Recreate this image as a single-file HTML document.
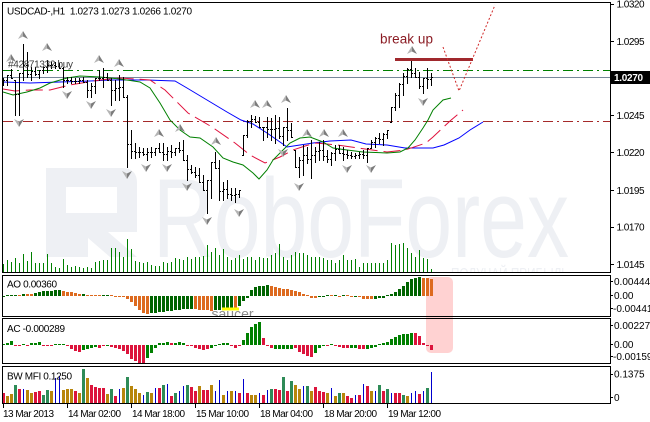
<!DOCTYPE html>
<html><head><meta charset="utf-8">
<style>
html,body{margin:0;padding:0;background:#fff;width:650px;height:422px;overflow:hidden}
svg{display:block}
text{font-family:"Liberation Sans",Arial,sans-serif}
</style></head><body>
<svg xmlns="http://www.w3.org/2000/svg" width="650" height="422" viewBox="0 0 650 422">
<defs>
<clipPath id="cm"><rect x="3" y="3" width="607" height="269"/></clipPath>
<clipPath id="cao"><rect x="3" y="276" width="607" height="40"/></clipPath>
</defs>
<rect width="650" height="422" fill="#fff"/>

<rect x="426" y="277" width="27" height="76" rx="5" fill="#ffd2d2"/>

<g clip-path="url(#cm)">
  <path d="M46,168 H122 Q137,168 137,183 V232 H108 L137,257 H110 L88,238 V257 H46 Z M66,187 H117 V213 H66 Z" fill="#eef0f4" fill-rule="evenodd"/>
  <text x="153" y="257" font-size="112" textLength="416" lengthAdjust="spacingAndGlyphs" fill="#eef0f4">RoboForex</text>
  <text x="451" y="279" font-size="16" textLength="118" lengthAdjust="spacingAndGlyphs" fill="#eef0f4">ПОЛУЧАЙ ПРИБЫЛЬ</text>

  <path fill="none" stroke="#008000" stroke-width="1" d="M3.5 272v-8M7.5 272v-12M11.5 272v-10M15.5 272v-14M19.5 272v-9M23.5 272v-18M27.5 272v-11M31.5 272v-20M35.5 272v-9M39.5 272v-9M43.5 272v-9M47.5 272v-18M51.5 272v-9M55.5 272v-5M59.5 272v-4M63.5 272v-13M67.5 272v-7M71.5 272v-5M75.5 272v-6M79.5 272v-5M83.5 272v-4M87.5 272v-5M91.5 272v-4M95.5 272v-10M99.5 272v-11M103.5 272v-12M107.5 272v-12M111.5 272v-24M115.5 272v-24M119.5 272v-20M123.5 272v-15M127.5 272v-33M131.5 272v-23M135.5 272v-11M139.5 272v-10M143.5 272v-9M147.5 272v-10M151.5 272v-7M155.5 272v-6M159.5 272v-6M163.5 272v-10M167.5 272v-9M171.5 272v-10M175.5 272v-14M179.5 272v-13M183.5 272v-12M187.5 272v-15M191.5 272v-13M195.5 272v-15M199.5 272v-15M203.5 272v-16M207.5 272v-27M211.5 272v-20M215.5 272v-24M219.5 272v-17M223.5 272v-23M227.5 272v-15M231.5 272v-12M235.5 272v-14M239.5 272v-17M243.5 272v-13M247.5 272v-15M251.5 272v-15M255.5 272v-12M259.5 272v-15M263.5 272v-14M267.5 272v-14M271.5 272v-17M275.5 272v-19M279.5 272v-28M283.5 272v-15M287.5 272v-12M291.5 272v-17M295.5 272v-20M299.5 272v-19M303.5 272v-19M307.5 272v-17M311.5 272v-15M315.5 272v-15M319.5 272v-15M323.5 272v-14M327.5 272v-12M331.5 272v-12M335.5 272v-9M339.5 272v-12M343.5 272v-17M347.5 272v-12M351.5 272v-12M355.5 272v-13M359.5 272v-5M363.5 272v-9M367.5 272v-9M371.5 272v-9M375.5 272v-9M379.5 272v-9M383.5 272v-9M387.5 272v-12M391.5 272v-29M395.5 272v-27M399.5 272v-28M403.5 272v-29M407.5 272v-24M411.5 272v-19M415.5 272v-15M419.5 272v-22M423.5 272v-14M427.5 272v-13M431.5 272v-3"/>

  <line x1="3" y1="70.5" x2="610" y2="70.5" stroke="#008000" stroke-width="1" stroke-dasharray="10 4 2 4"/>
  <line x1="3" y1="77.5" x2="610" y2="77.5" stroke="#778899" stroke-width="1"/>
  <line x1="3" y1="121.5" x2="610" y2="121.5" stroke="#a52a2a" stroke-width="1" stroke-dasharray="10 4 2 4"/>

  <polyline fill="none" stroke="#0000ff" stroke-width="1" points="3,82 30,83 60,82 90,81 110,80 147,80 175,81 187,88 207,100 227,112 241,120 253,124 267,133 280,142 287,147 300,145 313,143 330,141 351,140 366,144 387,145 405,148 433,148 444,145 459,138 470,130 483,122"/>
  <polyline fill="none" stroke="#e0103c" stroke-width="1" stroke-dasharray="17 6" points="3,89 15,91 30,90 50,90 70,85 100,80 120,78 150,80 165,90 188,113 212,127 235,143 250,155 265,163 280,157 293,150 305,146 316,143 337,145 358,148 387,152 405,150 426,143 433,137 450,121 463,110"/>
  <polyline fill="none" stroke="#008000" stroke-width="1" points="3,92 13,95 27,92 40,88 50,83 67,78 80,76 100,77 120,79 140,82 150,88 160,103 170,120 180,130 190,137 200,138 213,147 223,158 233,162 243,165 253,173 259,179 267,170 273,160 280,153 290,143 300,138 310,137 323,142 333,148 347,150 363,152 387,153 400,152 408,148 415,140 423,128 428,120 433,110 443,100 451,98"/>

  <path fill="none" stroke="#000" stroke-width="1" d="M3.5 78V86M2 82.5h1M4 80.5h1M7.5 75V86M6 80.5h1M8 75.5h1M11.5 69V79M10 75.5h1M12 78.5h1M15.5 80V116M14 80.5h1M16 94.5h1M19.5 73V116M18 94.5h1M20 73.5h1M23.5 44V81M22 73.5h1M24 65.5h1M27.5 52V78M26 65.5h1M28 74.5h1M31.5 67V81M30 74.5h1M32 71.5h1M35.5 67V76M34 71.5h1M36 74.5h1M39.5 70V79M38 74.5h1M40 70.5h1M43.5 67V74M42 70.5h1M44 67.5h1M47.5 60V73M46 67.5h1M48 65.5h1M51.5 62V69M50 65.5h1M52 65.5h1M55.5 62V69M54 65.5h1M56 66.5h1M59.5 63V69M58 66.5h1M60 68.5h1M63.5 67V88M62 68.5h1M64 80.5h1M67.5 77V84M66 80.5h1M68 80.5h1M71.5 77V84M70 80.5h1M72 81.5h1M75.5 78V84M74 81.5h1M76 81.5h1M79.5 78V84M78 81.5h1M80 80.5h1M83.5 77V83M82 80.5h1M84 82.5h1M87.5 80V98M86 82.5h1M88 90.5h1M91.5 83V98M90 90.5h1M92 86.5h1M95.5 78V94M94 86.5h1M96 78.5h1M99.5 70V81M98 78.5h1M100 78.5h1M103.5 68V88M102 78.5h1M104 77.5h1M107.5 73V81M106 77.5h1M108 80.5h1M111.5 78V106M110 80.5h1M112 90.5h1M115.5 80V101M114 90.5h1M116 88.5h1M119.5 75V101M118 88.5h1M120 87.5h1M123.5 77V98M122 87.5h1M124 97.5h1M127.5 95V168M126 97.5h1M128 144.5h1M131.5 130V159M130 144.5h1M132 151.5h1M135.5 143V159M134 151.5h1M136 152.5h1M139.5 147V158M138 152.5h1M140 152.5h1M143.5 148V156M142 152.5h1M144 154.5h1M147.5 148V161M146 154.5h1M148 152.5h1M151.5 147V158M150 152.5h1M152 152.5h1M155.5 148V156M154 152.5h1M156 148.5h1M159.5 143V153M158 148.5h1M160 152.5h1M163.5 143V161M162 152.5h1M164 154.5h1M167.5 147V161M166 154.5h1M168 151.5h1M171.5 145V158M170 151.5h1M172 152.5h1M175.5 148V156M174 152.5h1M176 148.5h1M179.5 142V153M178 148.5h1M180 150.5h1M183.5 140V161M182 150.5h1M184 160.5h1M187.5 155V181M186 160.5h1M188 169.5h1M191.5 165V174M190 169.5h1M192 172.5h1M195.5 167V178M194 172.5h1M196 175.5h1M199.5 168V183M198 175.5h1M200 182.5h1M203.5 175V191M202 182.5h1M204 190.5h1M207.5 180V214M206 190.5h1M208 180.5h1M211.5 162V199M210 180.5h1M212 162.5h1M215.5 152V169M214 162.5h1M216 168.5h1M219.5 160V201M218 168.5h1M220 191.5h1M223.5 182V201M222 191.5h1M224 189.5h1M227.5 180V199M226 189.5h1M228 194.5h1M231.5 188V201M230 194.5h1M232 195.5h1M235.5 188V203M234 195.5h1M236 194.5h1M239.5 190V198M238 194.5h1M240 190.5h1M243.5 135V156M242 155.5h1M244 135.5h1M247.5 120V138M246 135.5h1M248 121.5h1M251.5 115V128M250 121.5h1M252 119.5h1M255.5 116V123M254 119.5h1M256 122.5h1M259.5 117V128M258 122.5h1M260 127.5h1M263.5 127V141M262 127.5h1M264 127.5h1M267.5 117V138M266 127.5h1M268 129.5h1M271.5 118V141M270 129.5h1M272 129.5h1M275.5 115V144M274 129.5h1M276 128.5h1M279.5 117V139M278 128.5h1M280 136.5h1M283.5 127V146M282 136.5h1M284 127.5h1M287.5 108V141M286 127.5h1M288 130.5h1M291.5 123V138M290 130.5h1M292 137.5h1M295.5 150V168M294 150.5h1M296 167.5h1M299.5 157V178M298 167.5h1M300 160.5h1M303.5 145V176M302 160.5h1M304 155.5h1M307.5 147V164M306 155.5h1M308 159.5h1M311.5 140V179M310 159.5h1M312 155.5h1M315.5 147V163M314 155.5h1M316 151.5h1M319.5 142V161M318 151.5h1M320 150.5h1M323.5 140V161M322 150.5h1M324 156.5h1M327.5 150V163M326 156.5h1M328 159.5h1M331.5 152V166M330 159.5h1M332 153.5h1M335.5 145V161M334 153.5h1M336 149.5h1M339.5 145V154M338 149.5h1M340 153.5h1M343.5 147V161M342 153.5h1M344 154.5h1M347.5 150V159M346 154.5h1M348 155.5h1M351.5 152V159M350 155.5h1M352 156.5h1M355.5 153V159M354 156.5h1M356 155.5h1M359.5 152V159M358 155.5h1M360 154.5h1M363.5 150V159M362 154.5h1M364 155.5h1M367.5 148V163M366 155.5h1M368 148.5h1M371.5 140V149M370 148.5h1M372 142.5h1M375.5 137V148M374 142.5h1M376 138.5h1M379.5 133V144M378 138.5h1M380 139.5h1M383.5 133V146M382 139.5h1M384 134.5h1M387.5 130V139M386 134.5h1M388 130.5h1M391.5 107V123M390 122.5h1M392 107.5h1M395.5 93V111M394 107.5h1M396 95.5h1M399.5 83V108M398 95.5h1M400 84.5h1M403.5 73V96M402 84.5h1M404 76.5h1M407.5 68V84M406 76.5h1M408 69.5h1M411.5 60V78M410 69.5h1M412 73.5h1M415.5 68V78M414 73.5h1M416 77.5h1M419.5 72V89M418 77.5h1M420 86.5h1M423.5 78V94M422 86.5h1M424 78.5h1M427.5 68V89M426 78.5h1M428 79.5h1M431.5 73V86M430 79.5h1M432 77.5h1"/>

  <path fill="#b4b4b4" d="M23 31L18 39L23 36.5ZM47 43L42 51L47 48.5ZM11 54L6 62L11 59.5ZM99 55L94 63L99 60.5ZM119 59L114 67L119 64.5ZM159 129L154 137L159 134.5ZM180 124L175 132L180 129.5ZM216 137L211 145L216 142.5ZM255 100L250 108L255 105.5ZM267 100L262 108L267 105.5ZM286 95L281 103L286 100.5ZM307 129L302 137L307 134.5ZM324 129L319 137L324 134.5ZM343 129L338 137L343 134.5ZM412 46L407 54L412 51.5ZM14 119L19 121.5L19 127ZM62 91L67 93.5L67 99ZM86 101L91 103.5L91 109ZM106 109L111 111.5L111 117ZM122 171L127 173.5L127 179ZM141 164L146 166.5L146 172ZM162 164L167 166.5L167 172ZM182 183L187 185.5L187 191ZM202 217L207 219.5L207 225ZM234 209L239 211.5L239 217ZM278 149L283 151.5L283 157ZM294 183L299 185.5L299 191ZM342 165L347 167.5L347 173ZM366 165L371 167.5L371 173ZM418 98L423 100.5L423 106Z"/>
  <path fill="#7c7c7c" d="M23 31L28 39L23 36.5ZM47 43L52 51L47 48.5ZM11 54L16 62L11 59.5ZM99 55L104 63L99 60.5ZM119 59L124 67L119 64.5ZM159 129L164 137L159 134.5ZM180 124L185 132L180 129.5ZM216 137L221 145L216 142.5ZM255 100L260 108L255 105.5ZM267 100L272 108L267 105.5ZM286 95L291 103L286 100.5ZM307 129L312 137L307 134.5ZM324 129L329 137L324 134.5ZM343 129L348 137L343 134.5ZM412 46L417 54L412 51.5ZM24 119L19 121.5L19 127ZM72 91L67 93.5L67 99ZM96 101L91 103.5L91 109ZM116 109L111 111.5L111 117ZM132 171L127 173.5L127 179ZM151 164L146 166.5L146 172ZM172 164L167 166.5L167 172ZM192 183L187 185.5L187 191ZM212 217L207 219.5L207 225ZM244 209L239 211.5L239 217ZM288 149L283 151.5L283 157ZM304 183L299 185.5L299 191ZM352 165L347 167.5L347 173ZM376 165L371 167.5L371 173ZM428 98L423 100.5L423 106Z"/>

  <line x1="395" y1="59.5" x2="473" y2="59.5" stroke="#a0282d" stroke-width="3"/>
  <polyline fill="none" stroke="#d02828" stroke-width="1" stroke-dasharray="2 2" points="443,47 459,91 495,5"/>
  <text x="380" y="43.5" font-size="13.5" textLength="53" fill="#8b1c24">break up</text>
  <text x="8" y="67.5" font-size="10" textLength="65" fill="#3a3a3a">#42871332 buy</text>
  <text x="7" y="14.5" font-size="10" textLength="185" fill="#000" xml:space="preserve">USDCAD-,H1  1.0273 1.0273 1.0266 1.0270</text>
</g>

<!-- AO -->
<path fill="none" stroke="#006400" stroke-width="3" d="M3.5 296v1M7.5 296v-1M11.5 296v-1M15.5 296v-1M23.5 296v-2M35.5 296v-3M39.5 296v-4M43.5 296v-5M47.5 296v-5M51.5 296v-5M55.5 296v-6M59.5 296v-6M83.5 296v-2M103.5 296v-1M107.5 296v-1M151.5 296v17M155.5 296v17M159.5 296v16M163.5 296v16M167.5 296v15M171.5 296v15M175.5 296v14M179.5 296v14M183.5 296v13M187.5 296v13M191.5 296v13M215.5 296v14M219.5 296v14M223.5 296v14M227.5 296v13M231.5 296v13M239.5 296v10M243.5 296v5M247.5 296v2M251.5 296v-6M255.5 296v-9M259.5 296v-10M263.5 296v-10M267.5 296v-11M319.5 296v1M323.5 296v1M327.5 296v-1M335.5 296v-1M343.5 296v-1M355.5 296v1M375.5 296v3M379.5 296v2M383.5 296v2M387.5 296v-1M391.5 296v-2M395.5 296v-4M399.5 296v-7M403.5 296v-10M407.5 296v-14M411.5 296v-17M415.5 296v-18M419.5 296v-19"/>
<path fill="none" stroke="#dd6a1f" stroke-width="3" d="M19.5 296v-1M27.5 296v-2M31.5 296v-2M63.5 296v-5M67.5 296v-4M71.5 296v-4M75.5 296v-3M79.5 296v-2M87.5 296v-1M91.5 296v-1M95.5 296v-1M99.5 296v-1M111.5 296v-1M115.5 296v1M119.5 296v1M123.5 296v1M127.5 296v3M131.5 296v6M135.5 296v10M139.5 296v14M143.5 296v17M147.5 296v18M195.5 296v13M199.5 296v14M203.5 296v14M207.5 296v14M211.5 296v15M235.5 296v14M271.5 296v-10M275.5 296v-9M279.5 296v-8M283.5 296v-7M287.5 296v-7M291.5 296v-6M295.5 296v-5M299.5 296v-4M303.5 296v-2M307.5 296v-1M311.5 296v2M315.5 296v2M331.5 296v-1M339.5 296v1M347.5 296v-1M351.5 296v1M359.5 296v1M363.5 296v3M367.5 296v3M371.5 296v3M423.5 296v-18M427.5 296v-18M431.5 296v-17"/>
<rect x="222" y="307.5" width="17" height="3" fill="#ffff00"/>
<g clip-path="url(#cao)"><text x="211.5" y="318.5" font-size="14" fill="#8a8a8a">saucer</text></g>

<!-- AC -->
<path fill="none" stroke="#008000" stroke-width="3" d="M3.5 345v-1M7.5 345v-2M11.5 345v-4M23.5 345v-1M31.5 345v-2M35.5 345v-2M39.5 345v-3M55.5 345v-1M59.5 345v-1M63.5 345v-1M83.5 345v5M87.5 345v4M91.5 345v3M95.5 345v2M107.5 345v1M147.5 345v13M151.5 345v8M155.5 345v3M159.5 345v-2M163.5 345v-2M167.5 345v-3M175.5 345v-2M179.5 345v-3M183.5 345v-2M211.5 345v3M215.5 345v1M219.5 345v-1M223.5 345v-2M227.5 345v-2M243.5 345v-5M247.5 345v-12M251.5 345v-18M255.5 345v-21M259.5 345v-23M275.5 345v4M279.5 345v4M283.5 345v4M287.5 345v4M291.5 345v4M315.5 345v8M319.5 345v3M323.5 345v1M331.5 345v-1M351.5 345v3M355.5 345v3M367.5 345v4M371.5 345v3M375.5 345v2M379.5 345v-1M383.5 345v-2M387.5 345v-3M391.5 345v-6M395.5 345v-8M399.5 345v-10M403.5 345v-11M407.5 345v-11M411.5 345v-12"/>
<path fill="none" stroke="#dc143c" stroke-width="3" d="M15.5 345v1M19.5 345v1M27.5 345v1M43.5 345v1M47.5 345v1M51.5 345v1M67.5 345v1M71.5 345v4M75.5 345v6M79.5 345v7M99.5 345v3M103.5 345v1M111.5 345v2M115.5 345v3M119.5 345v4M123.5 345v6M127.5 345v9M131.5 345v14M135.5 345v16M139.5 345v18M143.5 345v18M171.5 345v-2M187.5 345v1M191.5 345v1M195.5 345v3M199.5 345v4M203.5 345v5M207.5 345v4M231.5 345v1M235.5 345v3M239.5 345v1M263.5 345v-7M267.5 345v1M271.5 345v3M295.5 345v3M299.5 345v7M303.5 345v9M307.5 345v11M311.5 345v12M327.5 345v1M335.5 345v1M339.5 345v2M343.5 345v3M347.5 345v3M359.5 345v4M363.5 345v4M415.5 345v-12M419.5 345v-9M423.5 345v-2M427.5 345v1M431.5 345v5"/>

<!-- BW MFI -->
<path fill="none" stroke="#2e8b57" stroke-width="3" d="M15.5 403v-18M43.5 403v-8M47.5 403v-13M83.5 403v-34M111.5 403v-14M127.5 403v-26M147.5 403v-11M163.5 403v-18M175.5 403v-10M187.5 403v-18M271.5 403v-14M283.5 403v-26M291.5 403v-22M307.5 403v-17M339.5 403v-10M379.5 403v-18M387.5 403v-14M403.5 403v-8M427.5 403v-15"/>
<path fill="none" stroke="#b8860b" stroke-width="3" d="M7.5 403v-7M11.5 403v-9M27.5 403v-13M31.5 403v-10M51.5 403v-12M63.5 403v-13M67.5 403v-14M71.5 403v-14M79.5 403v-10M87.5 403v-25M107.5 403v-9M123.5 403v-15M131.5 403v-17M135.5 403v-14M139.5 403v-10M151.5 403v-10M199.5 403v-17M211.5 403v-18M223.5 403v-8M231.5 403v-12M251.5 403v-8M255.5 403v-8M295.5 403v-18M299.5 403v-14M311.5 403v-12M327.5 403v-10M335.5 403v-7M343.5 403v-10M371.5 403v-12M407.5 403v-7"/>
<path fill="none" stroke="#dc143c" stroke-width="3" d="M3.5 403v-10M19.5 403v-14M35.5 403v-11M39.5 403v-12M75.5 403v-12M91.5 403v-18M95.5 403v-16M99.5 403v-15M103.5 403v-15M115.5 403v-7M159.5 403v-15M171.5 403v-7M191.5 403v-16M195.5 403v-12M203.5 403v-13M207.5 403v-13M239.5 403v-10M247.5 403v-10M263.5 403v-8M275.5 403v-14M279.5 403v-13M287.5 403v-12M315.5 403v-16M319.5 403v-12M323.5 403v-11M347.5 403v-7M351.5 403v-5M359.5 403v-8M367.5 403v-17M383.5 403v-12M395.5 403v-10M399.5 403v-10M419.5 403v-9"/>
<path fill="none" stroke="#0000cd" stroke-width="1" d="M23.5 403v-14M55.5 403v-25M59.5 403v-27M119.5 403v-14M143.5 403v-8M155.5 403v-15M167.5 403v-19M179.5 403v-12M183.5 403v-17M215.5 403v-12M219.5 403v-23M227.5 403v-12M235.5 403v-12M243.5 403v-24M259.5 403v-10M267.5 403v-13M303.5 403v-17M331.5 403v-15M355.5 403v-8M363.5 403v-19M375.5 403v-12M391.5 403v-10M411.5 403v-10M415.5 403v-12M423.5 403v-12M431.5 403v-31"/>

<text x="7" y="287.5" font-size="10" textLength="50" fill="#000">AO 0.00360</text>
<text x="7" y="332" font-size="10" textLength="58" fill="#000">AC -0.000289</text>
<text x="7" y="379.5" font-size="10" textLength="65" fill="#000">BW MFI 0.1250</text>

<g fill="none" stroke="#000" stroke-width="1">
  <rect x="2.5" y="2.5" width="608" height="270"/>
  <rect x="2.5" y="275.5" width="608" height="41"/>
  <rect x="2.5" y="318.5" width="608" height="45"/>
  <rect x="2.5" y="366.5" width="608" height="37"/>
</g>

<g stroke="#000" stroke-width="1">
  <line x1="611" y1="4.5" x2="614" y2="4.5"/>
  <line x1="611" y1="41.5" x2="614" y2="41.5"/>
  <line x1="611" y1="115.5" x2="614" y2="115.5"/>
  <line x1="611" y1="152.5" x2="614" y2="152.5"/>
  <line x1="611" y1="190.5" x2="614" y2="190.5"/>
  <line x1="611" y1="227.5" x2="614" y2="227.5"/>
  <line x1="611" y1="264.5" x2="614" y2="264.5"/>
  <line x1="611" y1="281.5" x2="613" y2="281.5"/>
  <line x1="611" y1="295.5" x2="613" y2="295.5"/>
  <line x1="611" y1="308.5" x2="613" y2="308.5"/>
  <line x1="611" y1="325.5" x2="613" y2="325.5"/>
  <line x1="611" y1="344.5" x2="613" y2="344.5"/>
  <line x1="611" y1="356.5" x2="613" y2="356.5"/>
  <line x1="611" y1="374.5" x2="613" y2="374.5"/>
  <line x1="611" y1="397.5" x2="613" y2="397.5"/>
  <line x1="3.5" y1="404" x2="3.5" y2="408"/>
  <line x1="67.5" y1="404" x2="67.5" y2="408"/>
  <line x1="131.5" y1="404" x2="131.5" y2="408"/>
  <line x1="195.5" y1="404" x2="195.5" y2="408"/>
  <line x1="259.5" y1="404" x2="259.5" y2="408"/>
  <line x1="323.5" y1="404" x2="323.5" y2="408"/>
  <line x1="387.5" y1="404" x2="387.5" y2="408"/>
</g>

<g font-size="10" fill="#000">
  <text x="616.5" y="7.5" textLength="28">1.0320</text>
  <text x="616.5" y="45" textLength="28">1.0295</text>
  <text x="616.5" y="119" textLength="28">1.0245</text>
  <text x="616.5" y="156" textLength="28">1.0220</text>
  <text x="616.5" y="194" textLength="28">1.0195</text>
  <text x="616.5" y="230.5" textLength="28">1.0170</text>
  <text x="616.5" y="268" textLength="28">1.0145</text>
  <text x="614" y="285">0.00444</text>
  <text x="614" y="299">0.00</text>
  <text x="613" y="312">-0.00441</text>
  <text x="614" y="329">0.002275</text>
  <text x="614" y="348">0.00</text>
  <text x="613" y="360">-0.00159</text>
  <text x="614" y="377.5">0.1375</text>
  <text x="614" y="401">0</text>
  <text x="3" y="417" textLength="51">13 Mar 2013</text>
  <text x="68" y="417" textLength="53">14 Mar 02:00</text>
  <text x="132" y="417" textLength="53">14 Mar 18:00</text>
  <text x="196" y="417" textLength="53">15 Mar 10:00</text>
  <text x="260" y="417" textLength="53">18 Mar 04:00</text>
  <text x="324" y="417" textLength="53">18 Mar 20:00</text>
  <text x="388" y="417" textLength="53">19 Mar 12:00</text>
</g>
<rect x="611" y="71" width="39" height="13" fill="#000"/>
<text x="614" y="81" font-size="10" font-weight="bold" fill="#fff" textLength="29">1.0270</text>
</svg>
</body></html>
